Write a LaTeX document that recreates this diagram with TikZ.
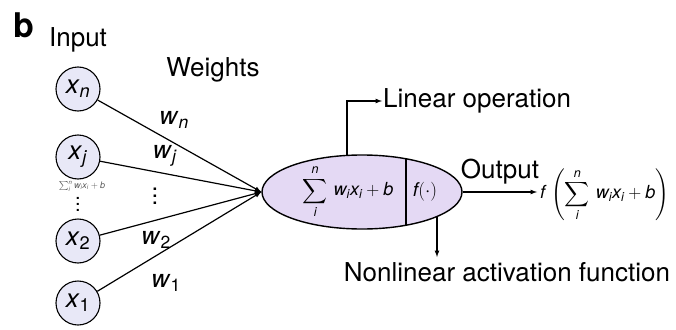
\RequirePackage{fix-cm}
\documentclass[tikz,border=0pt]{standalone}
\usepackage{fontspec}
\setmainfont{TeX Gyre Heros}
\usepackage{exscale}
\usepackage{tikz}
\usetikzlibrary{arrows,shapes.geometric,positioning}
\pgfdeclarelayer{edgelayer}
\pgfdeclarelayer{nodelayer}
\pgfsetlayers{nodelayer,main,edgelayer}
\definecolor{inputfill}{RGB}{232,232,247}
\definecolor{cellfill}{RGB}{228,217,244}
\newcommand{\vsub}[2]{\textit{#1}\textsubscript{#2}}
\newcommand{\vdotsx}[1]{\vbox{\baselineskip=#1\lineskiplimit=0pt\hbox{.}\hbox{.}\hbox{.}}}
\newcommand{\neuronsum}{\displaystyle\sum_{\mathit{i}}^{\mathit{n}}\,\mathit{w}_{\mathit{i}}\mathit{x}_{\mathit{i}}+\mathit{b}}
\tikzset{
	invar/.style={circle, draw, line width=1.1pt, fill=inputfill, minimum size=44pt, inner sep=0pt, font=\fontsize{26}{28}\selectfont},
	bigtext/.style={inner sep=1pt, font=\fontsize{26}{30}\selectfont},
	wlabel/.style={inner sep=0pt, font=\fontsize{25}{28}\selectfont},
	sumcell/.style={ellipse, draw, line width=1.4pt, fill=cellfill, minimum width=200pt, minimum height=74pt, inner sep=0pt},
	wire/.style={line width=1.2pt},
}
\begin{document}
\begin{tikzpicture}[x=1pt, y=-1pt]
	\useasboundingbox (0,0) rectangle (676,329);
	\begin{pgfonlayer}{nodelayer}
		\node [font=\fontsize{34}{36}\selectfont\bfseries, inner sep=0pt] (0) at (24, 25) {b};
		\node [bigtext] (1) at (78, 40) {Input};
		\node [bigtext] (2) at (213, 70) {Weights};
		\node [invar] (3) at (78, 89) {\vsub{x}{\textit{n}}};
		\node [invar] (4) at (78, 157) {\vsub{x}{\textit{j}}};
		\node [invar] (5) at (78, 241) {\vsub{x}{2}};
		\node [invar] (6) at (78, 303) {\vsub{x}{1}};
		\node [sumcell] (7) at (362, 192) {};
		\node [font=\fontsize{18}{20}\selectfont, inner sep=0pt] (8) at (348, 192) {$\neuronsum$};
		\node [font=\fontsize{19}{20}\selectfont, inner sep=0pt] (9) at (425, 192) {$\mathit{f}(\cdot)$};
		\node [wlabel] (10) at (174, 120) {\vsub{w}{\textit{n}}};
		\node [wlabel] (11) at (165, 156) {\vsub{w}{\textit{j}}};
		\node [wlabel] (12) at (156, 240) {\vsub{w}{2}};
		\node [wlabel] (13) at (166, 283) {\vsub{w}{1}};
		\node [font=\fontsize{24}{24}\selectfont, inner sep=0pt] (14) at (155, 196) {\vdotsx{7pt}};
		\node [font=\fontsize{9}{10}\selectfont, text=black!65, inner sep=0pt] (15) at (82, 186) {$\textstyle\sum_{\mathit{i}}^{\mathit{n}}\mathit{w}_{\mathit{i}}\mathit{x}_{\mathit{i}}+\mathit{b}$};
		\node [font=\fontsize{20}{20}\selectfont, inner sep=0pt] (16) at (78, 204) {\vdotsx{6pt}};
		\node [bigtext, anchor=west] (17) at (382, 101) {Linear operation};
		\node [bigtext] (18) at (507, 272) {Nonlinear activation function};
		\node [bigtext] (19) at (500, 172) {Output};
		\node [font=\fontsize{18}{20}\selectfont, anchor=west, inner sep=3pt] (20) at (537, 195) {$\mathit{f}\,\left(\neuronsum\right)$};
		\coordinate (21) at (406, 158.8);
		\coordinate (22) at (406, 225.2);
		\coordinate (23) at (347, 155.4);
		\coordinate (24) at (347, 101);
		\coordinate (25) at (437, 216.5);
		\coordinate (26) at (437, 257);
	\end{pgfonlayer}
	\begin{pgfonlayer}{edgelayer}
		\draw [wire, -latex] (3) to (7.west);
		\draw [wire, -latex] (4) to (7.west);
		\draw [wire, -latex] (5) to (7.west);
		\draw [wire, -latex] (6) to (7.west);
		\draw [line width=1.4pt] (21) to (22);
		\draw [wire, -latex] (23) -- (24) -- (17.west);
		\draw [wire, -latex] (25) to (26);
		\draw [wire, -latex] (7.east) to (7.east -| 20.west);
	\end{pgfonlayer}
\end{tikzpicture}
\end{document}
